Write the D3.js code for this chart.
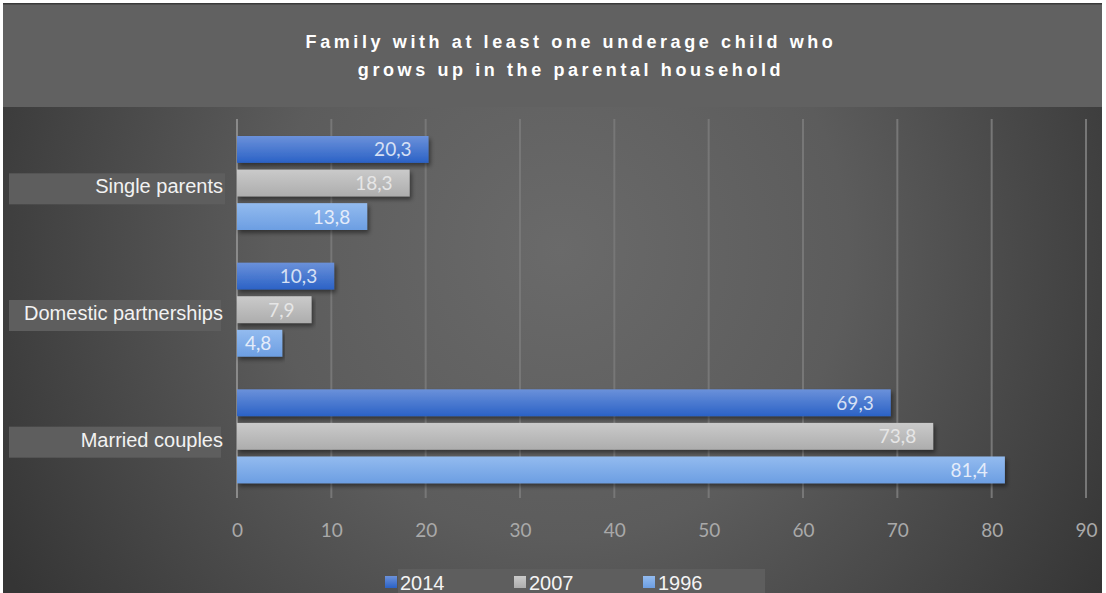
<!DOCTYPE html>
<meta charset="utf-8">
<style>
body { margin: 0; background: #fff; }
text { font-family: "Liberation Sans", Arial, sans-serif; }
.tick text, .val { font-family: Lato, "Open Sans", sans-serif; }
</style>
<svg width="1106" height="593" id="chart"></svg>
<script src="https://cdnjs.cloudflare.com/ajax/libs/d3/7.8.5/d3.min.js"></script>
<script>

var categories = ["Single parents", "Domestic partnerships", "Married couples"];
var years = ["2014", "2007", "1996"];
var v2014 = [20.3, 10.3, 69.3];
var v2007 = [18.3, 7.9, 73.8];
var v1996 = [13.8, 4.8, 81.4];
var xTicks = [0, 10, 20, 30, 40, 50, 60, 70, 80, 90];
var titleLines = ["Family with at least one underage child who", "grows up in the parental household"];

var series = [v2014, v2007, v1996];
var colors = {
  "2014": ["#6b91da", "#2b62c6"],
  "2007": ["#cacaca", "#adadad"],
  "1996": ["#93bbef", "#6c9ee2"]
};
var labelFill = { "2014": "#d6e0f4", "2007": "#e6e6e6", "1996": "#e4ecfa" };

var svg = d3.select("#chart");

var defs = svg.append("defs");
var bg = defs.append("radialGradient").attr("id", "bg")
  .attr("gradientUnits", "userSpaceOnUse")
  .attr("cx", 560).attr("cy", 250).attr("r", 640);
bg.append("stop").attr("offset", "0").attr("stop-color", "#6a6a6a");
bg.append("stop").attr("offset", "0.45").attr("stop-color", "#5c5c5c");
bg.append("stop").attr("offset", "1").attr("stop-color", "#353535");

years.forEach(function(y) {
  var g = defs.append("linearGradient").attr("id", "g" + y)
    .attr("x1", 0).attr("y1", 0).attr("x2", 0).attr("y2", 1);
  g.append("stop").attr("offset", "0").attr("stop-color", colors[y][0]);
  g.append("stop").attr("offset", "1").attr("stop-color", colors[y][1]);
});

var shadow = defs.append("filter").attr("id", "shadow")
  .attr("x", "-5%").attr("y", "-30%").attr("width", "110%").attr("height", "170%");
shadow.append("feDropShadow").attr("dx", 2).attr("dy", 3).attr("stdDeviation", 2)
  .attr("flood-color", "#000").attr("flood-opacity", 0.45);

// background
svg.append("rect").attr("x", 3).attr("y", 3).attr("width", 1099).attr("height", 590)
  .attr("fill", "url(#bg)");
svg.append("rect").attr("x", 3).attr("y", 3).attr("width", 1099).attr("height", 104)
  .attr("fill", "#616161");
svg.append("rect").attr("x", 3).attr("y", 3).attr("width", 1099).attr("height", 1.5)
  .attr("fill", "#3a3a3a");

// title
svg.append("text")
  .attr("x", 571).attr("y", 48)
  .attr("text-anchor", "middle")
  .attr("fill", "#fff")
  .style("font-weight", "bold").style("font-size", "18px").style("letter-spacing", "3.6px")
  .selectAll("tspan").data(titleLines).enter().append("tspan")
  .attr("x", 571).attr("dy", function(d, i) { return i ? 28 : 0; })
  .text(function(d) { return d; });

var x = d3.scaleLinear().domain([0, 90]).range([237, 1086]);
var y = d3.scaleBand().domain(categories).range([120, 500]);
var yIn = d3.scaleBand().domain(years).range([16, 110]).paddingInner(0.2);

// gridlines
svg.append("g").selectAll("line").data(xTicks).enter().append("line")
  .attr("x1", function(d) { return x(d); }).attr("x2", function(d) { return x(d); })
  .attr("y1", 119).attr("y2", 498)
  .attr("stroke", function(d) { return d === 0 ? "#8a8a8a" : "#777"; })
  .attr("stroke-width", 2);

// x axis labels
var axis = svg.append("g").attr("transform", "translate(0,537)")
  .call(d3.axisBottom(x).tickValues(xTicks).tickSize(0).tickPadding(0));
axis.select(".domain").remove();
axis.attr("font-family", null);
axis.selectAll("text").attr("fill", "#a9a9a9").attr("dy", 0)
  .style("font-size", "19px");

// category labels
var cat = svg.append("g").selectAll("g").data(categories).enter().append("g");
cat.append("rect")
  .attr("x", 9).attr("y", function(d) { return y(d) + y.bandwidth() / 2 - 10; })
  .attr("width", function(d, i) { return i === 0 ? 216 : 212; }).attr("height", 31)
  .attr("fill", "#5e5e5e");
cat.append("text")
  .attr("x", 223).attr("y", function(d) { return y(d) + y.bandwidth() / 2 + 10; })
  .attr("text-anchor", "end").attr("fill", "#f2f2f2")
  .style("font-size", "20px")
  .text(function(d) { return d; });

// bars
var rows = [];
categories.forEach(function(c, i) {
  years.forEach(function(yr, j) {
    rows.push({ cat: c, year: yr, value: series[j][i] });
  });
});

var bars = svg.append("g").selectAll("g").data(rows).enter().append("g");
bars.append("rect")
  .attr("x", x(0))
  .attr("y", function(d) { return y(d.cat) + yIn(d.year); })
  .attr("width", function(d) { return x(d.value) - x(0); })
  .attr("height", yIn.bandwidth())
  .attr("fill", function(d) { return "url(#g" + d.year + ")"; })
  .attr("filter", "url(#shadow)");
bars.append("text").attr("class", "val")
  .attr("y", function(d) { return y(d.cat) + yIn(d.year) + yIn.bandwidth() / 2 + 7; })
  .attr("text-anchor", "end")
  .attr("fill", function(d) { return labelFill[d.year]; })
  .style("font-size", "19px")
  .text(function(d) { return String(d.value).replace(".", ","); })
  .attr("x", function(d) {
    // short bars: keep the label inside, pushed toward the bar end
    var w = this.getComputedTextLength();
    return Math.max(x(d.value) - 17, Math.min(x(0) + 8 + w, x(d.value) - 2));
  });

// legend
svg.append("rect").attr("x", 398).attr("y", 569).attr("width", 367).attr("height", 24)
  .attr("fill", "#5e5e5e");
var leg = svg.append("g").selectAll("g").data(years).enter().append("g")
  .attr("transform", function(d, i) { return "translate(" + (385 + i * 129) + ",0)"; });
leg.append("rect").attr("x", 0).attr("y", 576).attr("width", 12).attr("height", 12)
  .attr("fill", function(d) { return "url(#g" + d + ")"; });
leg.append("text").attr("x", 15).attr("y", 590)
  .attr("fill", "#f4f4f4").style("font-size", "20px")
  .text(function(d) { return d; });

</script>
